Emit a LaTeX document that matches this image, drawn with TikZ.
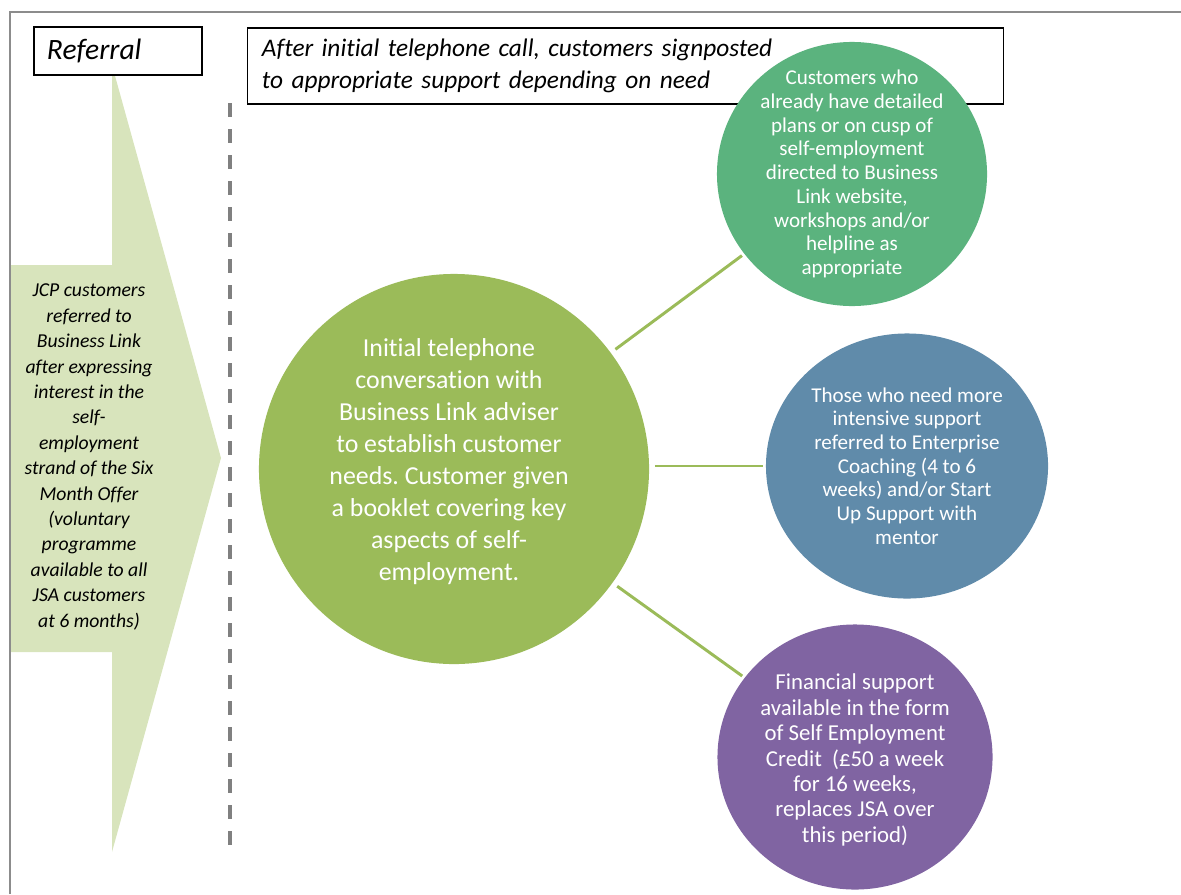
\documentclass[tikz,border=0pt]{standalone}
\usepackage{fontspec}
\setmainfont{Carlito}[Ligatures=NoCommon]
\usepackage{tikz}
\usetikzlibrary{shapes.geometric}
\definecolor{ReferralArrow}{RGB}{216,228,188}
\definecolor{StageCall}{RGB}{155,187,89}
\definecolor{StageWeb}{RGB}{91,179,126}
\definecolor{StageCoach}{RGB}{96,139,170}
\definecolor{StageCredit}{RGB}{128,100,162}
\definecolor{FrameGrey}{RGB}{140,140,140}
\definecolor{DashGrey}{RGB}{128,128,128}
\frenchspacing

\begin{document}
\begin{tikzpicture}[
    x=0.025cm, y=-0.025cm,
    hdr/.style={draw, fill=white, line width=0.8pt, align=left,
                font=\fontsize{18}{22.76}\selectfont\itshape},
    bubble/.style={ellipse, inner sep=0pt},
    bubtxt/.style={text=white, align=center, inner sep=0pt},
    link/.style={draw=StageCall, line width=2.1pt, shorten <=4pt, shorten >=2pt}
]
    \useasboundingbox (0,0) rectangle (1181,894);
    % referral arrow
    \fill[ReferralArrow] (10,265) -- (112,265) -- (112,65) -- (221,458)
        -- (112,852) -- (112,652) -- (10,652) -- cycle;
    \node[align=center, inner sep=0pt, font=\fontsize{14}{18.07}\selectfont\itshape] (jcp) at (89,457)
        {JCP customers\\referred to\\Business Link\\after expressing\\interest in the\\self-\\employment\\strand of the Six\\Month Offer\\(voluntary\\programme\\available to all\\JSA customers\\at 6 months)};
    \draw[FrameGrey, line width=1.4pt] (10,894) |- (1181,12);

    % headings
    \node[hdr, text width=3.55cm, inner xsep=0.325cm, minimum height=1.2cm,
          font=\fontsize{21}{22.76}\selectfont\itshape] (referral) at (118,51) {Referral};
    \node[hdr, text width=18.175cm, inner xsep=0.35cm, minimum height=1.9cm] (signpost) at (625.5,66)
        {After initial telephone call, customers signposted\\to appropriate support depending on need};
    \draw[DashGrey, line width=2.5pt, dash pattern=on 10pt off 8.5pt] (230,103) -- (230,846);

    % stages
    \node[bubble, fill=StageCall, minimum width=9.75cm, minimum height=9.75cm] (call) at (454,469) {};
    \node[bubble, fill=StageWeb, minimum width=6.75cm, minimum height=6.6cm] (web) at (852,174) {};
    \node[bubble, fill=StageCoach, minimum width=7.05cm, minimum height=6.625cm] (coach) at (907,466) {};
    \node[bubble, fill=StageCredit, minimum width=6.875cm, minimum height=6.625cm] (credit) at (855,757) {};
    \draw[link] (call) -- (web);
    \draw[link] (call.east |- coach.west) -- (coach.west);
    \draw[link] (call) -- (credit);

    \node[bubtxt, font=\fontsize{18.4}{22.76}\selectfont] (calltxt) at (449,462)
        {Initial telephone\\conversation with\\Business Link adviser\\to establish customer\\needs. Customer given\\a booklet covering key\\aspects of self-\\employment.};
    \node[bubtxt, font=\fontsize{15}{16.86}\selectfont] (webtxt) at (web)
        {Customers who\\already have detailed\\plans or on cusp of\\self-employment\\directed to Business\\Link website,\\workshops and/or\\helpline as\\appropriate};
    \node[bubtxt, font=\fontsize{15}{16.86}\selectfont] (coachtxt) at (coach)
        {Those who need more\\intensive support\\referred to Enterprise\\Coaching (4 to 6\\weeks) and/or Start\\Up Support with\\mentor};
    \node[bubtxt, font=\fontsize{16.2}{18.1}\selectfont] (credittxt) at (855,760)
        {Financial support\\available in the form\\of Self Employment\\Credit~ (£50 a week\\for 16 weeks,\\replaces JSA over\\this period)};
\end{tikzpicture}
\end{document}
